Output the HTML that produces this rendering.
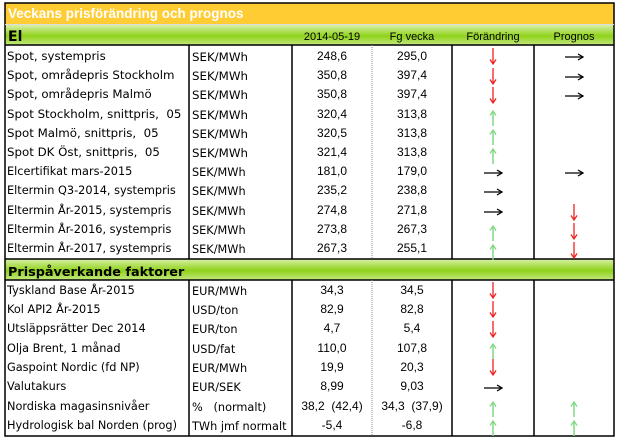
<!DOCTYPE html>
<html><head><meta charset="utf-8"><style>
html,body{margin:0;padding:0;background:#fff;width:620px;height:440px;overflow:hidden}
svg{display:block}
text{white-space:pre}
.l{font-family:"DejaVu Sans","Liberation Sans",sans-serif;font-size:11.8px;fill:#000}
.s{font-size:11.3px}
.n{font-family:"Liberation Sans",sans-serif;font-size:12px;fill:#000;text-anchor:middle}
.h{font-family:"Liberation Sans",sans-serif;font-size:11px;fill:#000;text-anchor:middle}
</style></head><body>
<svg width="620" height="440" viewBox="0 0 620 440" xmlns="http://www.w3.org/2000/svg" xml:space="preserve">
<defs>
<linearGradient id="g" x1="0" y1="0" x2="0" y2="1">
<stop offset="0" stop-color="#d8f0a8"/><stop offset="0.55" stop-color="#8fd21a"/><stop offset="1" stop-color="#c4e880"/>
</linearGradient>
<g id="dn"><line x1="0" y1="-9" x2="0" y2="6" stroke="#f02020" stroke-width="1.3"/><path d="M-3,2.5 L0,7 L3,2.5" fill="none" stroke="#f02020" stroke-width="1.3"/></g>
<g id="up"><line x1="0" y1="8" x2="0" y2="-6" stroke="#80d880" stroke-width="1.5"/><path d="M-3,-2.5 L0,-7 L3,-2.5" fill="none" stroke="#80d880" stroke-width="1.3"/></g>
<g id="rt"><line x1="-9" y1="0" x2="8" y2="0" stroke="#000" stroke-width="1.3"/><path d="M4,-3 L9,0 L4,3" fill="none" stroke="#000" stroke-width="1.3"/></g>
</defs>
<rect x="5" y="3" width="609" height="21" fill="#ffcc33"/>
<text x="8" y="18" font-family="Liberation Sans,sans-serif" font-size="13.5" font-weight="bold" fill="#fff">Veckans prisförändring och prognos</text>
<rect x="5" y="25" width="609" height="20" fill="url(#g)"/>
<rect x="5" y="259" width="609" height="21" fill="url(#g)"/>
<text x="8" y="41" font-family="DejaVu Sans,sans-serif" font-size="14" font-weight="bold">El</text>
<text x="8" y="276" font-family="DejaVu Sans,sans-serif" font-size="12.8" font-weight="bold">Prispåverkande faktorer</text>
<text class="h" x="332" y="40">2014-05-19</text>
<text class="h" x="412" y="40">Fg vecka</text>
<text class="h" x="493" y="40">Förändring</text>
<text class="h" x="574" y="40">Prognos</text>
<g stroke="#000" stroke-width="1.5" fill="none">
<rect x="5" y="3" width="609" height="433"/>
<line x1="5" y1="24.5" x2="614" y2="24.5" stroke="#ddd" stroke-width="1"/>
<line x1="5" y1="45" x2="614" y2="45"/>
<line x1="5" y1="259" x2="614" y2="259"/>
<line x1="5" y1="280" x2="614" y2="280"/>
<line x1="189" y1="45" x2="189" y2="259"/><line x1="189" y1="280" x2="189" y2="436"/>
<line x1="292" y1="45" x2="292" y2="259"/><line x1="292" y1="280" x2="292" y2="436"/>
<line x1="452" y1="45" x2="452" y2="259"/><line x1="452" y1="280" x2="452" y2="436"/>
<line x1="534" y1="45" x2="534" y2="259"/><line x1="534" y1="280" x2="534" y2="436"/>
</g>
<g stroke="#888" stroke-width="1" stroke-dasharray="1,1">
<line x1="372" y1="45" x2="372" y2="259"/><line x1="372" y1="280" x2="372" y2="436"/>
</g>
<g>
<text class="l" x="7" y="60">Spot, systempris</text>
<text class="l" x="7" y="79">Spot, områdepris Stockholm</text>
<text class="l" x="7" y="98">Spot, områdepris Malmö</text>
<text class="l" x="7" y="118">Spot Stockholm, snittpris,  05</text>
<text class="l" x="7" y="137">Spot Malmö, snittpris,  05</text>
<text class="l" x="7" y="156">Spot DK Öst, snittpris,  05</text>
<text class="l s" x="7" y="175">Elcertifikat mars-2015</text>
<text class="l s" x="7" y="194">Eltermin Q3-2014, systempris</text>
<text class="l s" x="7" y="214">Eltermin År-2015, systempris</text>
<text class="l s" x="7" y="233">Eltermin År-2016, systempris</text>
<text class="l s" x="7" y="252">Eltermin År-2017, systempris</text>
<text class="l s" x="7" y="294">Tyskland Base År-2015</text>
<text class="l s" x="7" y="313">Kol API2 År-2015</text>
<text class="l s" x="7" y="332">Utsläppsrätter Dec 2014</text>
<text class="l s" x="7" y="352">Olja Brent, 1 månad</text>
<text class="l s" x="7" y="371">Gaspoint Nordic (fd NP)</text>
<text class="l s" x="7" y="390">Valutakurs</text>
<text class="l s" x="7" y="410">Nordiska magasinsnivåer</text>
<text class="l s" x="7" y="429">Hydrologisk bal Norden (prog)</text>
</g>
<g>
<text class="l" x="192" y="61">SEK/MWh</text>
<text class="l" x="192" y="80">SEK/MWh</text>
<text class="l" x="192" y="99">SEK/MWh</text>
<text class="l" x="192" y="119">SEK/MWh</text>
<text class="l" x="192" y="138">SEK/MWh</text>
<text class="l" x="192" y="157">SEK/MWh</text>
<text class="l s" x="192" y="176">SEK/MWh</text>
<text class="l s" x="192" y="195">SEK/MWh</text>
<text class="l s" x="192" y="215">SEK/MWh</text>
<text class="l s" x="192" y="234">SEK/MWh</text>
<text class="l s" x="192" y="253">SEK/MWh</text>
<text class="l s" x="192" y="295">EUR/MWh</text>
<text class="l s" x="192" y="314">USD/ton</text>
<text class="l s" x="192" y="333">EUR/ton</text>
<text class="l s" x="192" y="353">USD/fat</text>
<text class="l s" x="192" y="372">EUR/MWh</text>
<text class="l s" x="192" y="391">EUR/SEK</text>
<text class="l s" x="192" y="411">%   (normalt)</text>
<text class="l s" x="192" y="430">TWh jmf normalt</text>
</g>
<g>
<text class="n" x="332" y="60">248,6</text><text class="n" x="412" y="60">295,0</text>
<text class="n" x="332" y="79">350,8</text><text class="n" x="412" y="79">397,4</text>
<text class="n" x="332" y="98">350,8</text><text class="n" x="412" y="98">397,4</text>
<text class="n" x="332" y="118">320,4</text><text class="n" x="412" y="118">313,8</text>
<text class="n" x="332" y="137">320,5</text><text class="n" x="412" y="137">313,8</text>
<text class="n" x="332" y="156">321,4</text><text class="n" x="412" y="156">313,8</text>
<text class="n" x="332" y="175">181,0</text><text class="n" x="412" y="175">179,0</text>
<text class="n" x="332" y="194">235,2</text><text class="n" x="412" y="194">238,8</text>
<text class="n" x="332" y="214">274,8</text><text class="n" x="412" y="214">271,8</text>
<text class="n" x="332" y="233">273,8</text><text class="n" x="412" y="233">267,3</text>
<text class="n" x="332" y="252">267,3</text><text class="n" x="412" y="252">255,1</text>
<text class="n" x="332" y="294">34,3</text><text class="n" x="412" y="294">34,5</text>
<text class="n" x="332" y="313">82,9</text><text class="n" x="412" y="313">82,8</text>
<text class="n" x="332" y="332">4,7</text><text class="n" x="412" y="332">5,4</text>
<text class="n" x="332" y="352">110,0</text><text class="n" x="412" y="352">107,8</text>
<text class="n" x="332" y="371">19,9</text><text class="n" x="412" y="371">20,3</text>
<text class="n" x="332" y="390">8,99</text><text class="n" x="412" y="390">9,03</text>
<text class="n" x="332" y="410">38,2  (42,4)</text><text class="n" x="412" y="410">34,3  (37,9)</text>
<text class="n" x="332" y="429">-5,4</text><text class="n" x="412" y="429">-6,8</text>
</g>
<use href="#dn" x="493" y="57"/><use href="#rt" x="574" y="57"/>
<use href="#dn" x="493" y="77"/><use href="#rt" x="574" y="77"/>
<use href="#dn" x="493" y="96"/><use href="#rt" x="574" y="96"/>
<use href="#up" x="493" y="118"/>
<use href="#up" x="493" y="137"/>
<use href="#up" x="493" y="156"/>
<use href="#rt" x="493" y="173"/><use href="#rt" x="574" y="173"/>
<use href="#rt" x="493" y="192"/>
<use href="#rt" x="493" y="212"/><use href="#dn" x="574" y="213"/>
<use href="#up" x="493" y="233"/><use href="#dn" x="574" y="232"/>
<use href="#up" x="493" y="252"/><use href="#dn" x="574" y="251"/>
<use href="#dn" x="493" y="291"/>
<use href="#dn" x="493" y="310"/>
<use href="#dn" x="493" y="330"/>
<use href="#up" x="493" y="351"/>
<use href="#dn" x="493" y="368"/>
<use href="#rt" x="493" y="388"/>
<use href="#up" x="493" y="409"/><use href="#up" x="574" y="409"/>
<use href="#up" x="493" y="428"/><use href="#up" x="574" y="428"/>
</svg>
</body></html>
